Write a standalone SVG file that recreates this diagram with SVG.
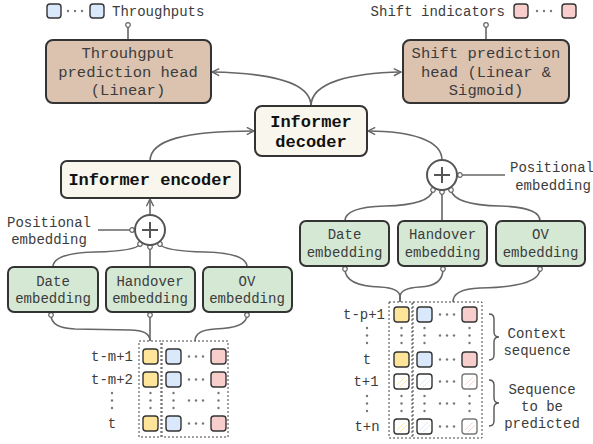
<svg xmlns="http://www.w3.org/2000/svg" width="593" height="444" viewBox="0 0 593 444">
<defs>
<style>
.t{font-family:"Liberation Mono","Courier New",monospace;fill:#3c3c3c;}
.s14{font-size:14px;}
.s15{font-size:15.5px;}
.b{font-size:17px;font-weight:bold;fill:#111;}
.mid{text-anchor:middle;}
.end{text-anchor:end;}
.box{stroke:#333;stroke-width:2;}
.head{fill:#dcc3b0;}
.inf{fill:#f9f7ed;}
.emb{fill:#d5e8d4;}
.c{fill:none;stroke:#666;stroke-width:1.6;}
.ar{marker-end:url(#arr);}
.dt{marker-end:url(#dot);}
.sq{stroke:#333;stroke-width:1.4;}
.y{fill:#ffe599;}
.bl{fill:#dae8fc;}
.pk{fill:#f8cecc;}
.w{fill:#fff;}
.wg{fill:#fff;stroke:#777;stroke-width:1.4;}
.dash{fill:none;stroke:#444;stroke-width:1;stroke-dasharray:2,2;}
.d{fill:#777;}
.hy{stroke:#ffe599;stroke-width:0.9;fill:none;}
.hb{stroke:#dae8fc;stroke-width:0.9;fill:none;}
.hp{stroke:#f8cecc;stroke-width:0.9;fill:none;}
</style>
<marker id="arr" viewBox="0 0 10 10" refX="9" refY="5" markerWidth="9" markerHeight="9" markerUnits="userSpaceOnUse" orient="auto">
<path d="M1,1 L9,5 L1,9" fill="none" stroke="#666" stroke-width="1.6"/>
</marker>
<marker id="dot" viewBox="0 0 8 8" refX="4" refY="4" markerWidth="7" markerHeight="7" markerUnits="userSpaceOnUse" orient="auto">
<circle cx="4" cy="4" r="2.6" fill="#fff" stroke="#666" stroke-width="1.4"/>
</marker>
</defs>
<rect width="593" height="444" fill="#fff"/>

<g id="connectors">
<path class="c dt" d="M128,40 L128,25"/>
<path class="c dt" d="M486,40 L486,25"/>
<path class="c ar" d="M311,106 C311,82 270,73 212,72"/>
<path class="c ar" d="M311,106 C311,82 352,73 401,72"/>
<path class="c ar" d="M150,161 C150,140 185,131 254,131"/>
<path class="c ar" d="M442,160 C442,140 410,131 368,131"/>
<path class="c ar" d="M150,215 L150,199"/>
<path class="c dt" d="M98,230 L132,230"/>
<path class="c dt" d="M505,175 L460,175"/>
<path class="c dt" d="M53,267 Q53,253 95,252 Q137,251 140,244"/>
<path class="c dt" d="M150,267 L150,247"/>
<path class="c dt" d="M247,267 Q247,253 205,252 Q163,251 160,244"/>
<path class="c dt" d="M345,221 Q345,207 385,206 Q430,205 433,190"/>
<path class="c dt" d="M442,221 L442,192"/>
<path class="c dt" d="M540,221 Q540,207 500,206 Q454,205 451,190"/>
<path class="c dt" d="M400,302 L400,297 Q400,288 380,287 Q345,286 345,269"/>
<path class="c dt" d="M400,302 L400,297 Q400,288 420,287 Q443,286 443,269"/>
<path class="c dt" d="M453,302 Q453,289 480,288 Q540,287 540,269"/>
<path class="c dt" d="M150,341 Q150,330 130,330 L75,329 Q51,328 51,315"/>
<path class="c dt" d="M150,341 L150,315"/>
<path class="c dt" d="M195,341 Q195,330 215,329 Q247,328 247,315"/>
</g>

<g id="throughputs-label">
<rect class="sq bl" x="47" y="4" width="14" height="14" rx="3"/>
<circle class="d" cx="68" cy="11" r="1.2"/><circle class="d" cx="75" cy="11" r="1.2"/><circle class="d" cx="82" cy="11" r="1.2"/>
<rect class="sq bl" x="90" y="4" width="14" height="14" rx="3"/>
<text class="t s14" x="112" y="16">Throughputs</text>
</g>

<g id="shift-label">
<text class="t s14 end" x="505" y="16">Shift indicators</text>
<rect class="sq pk" x="514" y="4" width="14" height="14" rx="3"/>
<circle class="d" cx="537" cy="11" r="1.2"/><circle class="d" cx="544" cy="11" r="1.2"/><circle class="d" cx="551" cy="11" r="1.2"/>
<rect class="sq pk" x="562" y="4" width="14" height="14" rx="3"/>
</g>

<g id="throughput-head">
<rect class="box head" x="46" y="40" width="165" height="63" rx="7"/>
<text class="t s15 mid" x="128" y="58">Throuhgput</text>
<text class="t s15 mid" x="128" y="77">prediction head</text>
<text class="t s15 mid" x="128" y="95">(Linear)</text>
</g>

<g id="shift-head">
<rect class="box head" x="403" y="40" width="166" height="63" rx="7"/>
<text class="t s15 mid" x="486" y="58">Shift prediction</text>
<text class="t s15 mid" x="486" y="77">head (Linear &amp;</text>
<text class="t s15 mid" x="486" y="95">Sigmoid)</text>
</g>

<g id="decoder">
<rect class="box inf" x="255" y="106" width="112" height="50" rx="7"/>
<text class="t b mid" x="311" y="127">Informer</text>
<text class="t b mid" x="311" y="147">decoder</text>
</g>

<g id="encoder">
<rect class="box inf" x="61" y="161" width="179" height="37" rx="6"/>
<text class="t b mid" x="150" y="185">Informer encoder</text>
</g>

<g id="plus-left">
<circle cx="150" cy="230" r="15" fill="#fff" stroke="#555" stroke-width="2"/>
<path d="M142,230 H158 M150,222 V238" stroke="#555" stroke-width="2"/>
</g>
<g id="pos-left">
<text class="t s14 mid" x="49" y="227">Positional</text>
<text class="t s14 mid" x="49" y="244">embedding</text>
</g>

<g id="plus-right">
<circle cx="442" cy="175" r="15" fill="#fff" stroke="#555" stroke-width="2"/>
<path d="M434,175 H450 M442,167 V183" stroke="#555" stroke-width="2"/>
</g>
<g id="pos-right">
<text class="t s14 mid" x="552" y="172">Positional</text>
<text class="t s14 mid" x="553" y="190">embedding</text>
</g>

<g id="date-left">
<rect class="box emb" x="8" y="267" width="90" height="45" rx="6"/>
<text class="t s14 mid" x="53" y="286">Date</text>
<text class="t s14 mid" x="53" y="303">embedding</text>
</g>
<g id="handover-left">
<rect class="box emb" x="106" y="267" width="89" height="45" rx="6"/>
<text class="t s14 mid" x="150" y="286">Handover</text>
<text class="t s14 mid" x="150" y="303">embedding</text>
</g>
<g id="ov-left">
<rect class="box emb" x="203" y="267" width="89" height="45" rx="6"/>
<text class="t s14 mid" x="247" y="286">OV</text>
<text class="t s14 mid" x="247" y="303">embedding</text>
</g>

<g id="date-right">
<rect class="box emb" x="300" y="221" width="89" height="45" rx="6"/>
<text class="t s14 mid" x="344.5" y="239">Date</text>
<text class="t s14 mid" x="344.5" y="257">embedding</text>
</g>
<g id="handover-right">
<rect class="box emb" x="398" y="221" width="89" height="45" rx="6"/>
<text class="t s14 mid" x="442.5" y="239">Handover</text>
<text class="t s14 mid" x="442.5" y="257">embedding</text>
</g>
<g id="ov-right">
<rect class="box emb" x="496" y="221" width="89" height="45" rx="6"/>
<text class="t s14 mid" x="540.5" y="239">OV</text>
<text class="t s14 mid" x="540.5" y="257">embedding</text>
</g>

<g id="encoder-input">
<rect class="dash" x="139" y="341" width="22" height="96"/>
<rect class="dash" x="162" y="341" width="66" height="96"/>
<rect class="sq y" x="143" y="349" width="15" height="15" rx="3"/>
<rect class="sq bl" x="166" y="349" width="15" height="15" rx="3"/>
<rect class="sq pk" x="211" y="349" width="15" height="15" rx="3"/>
<rect class="sq y" x="143" y="372" width="15" height="15" rx="3"/>
<rect class="sq bl" x="166" y="372" width="15" height="15" rx="3"/>
<rect class="sq pk" x="211" y="372" width="15" height="15" rx="3"/>
<rect class="sq y" x="143" y="416" width="15" height="15" rx="3"/>
<rect class="sq bl" x="166" y="416" width="15" height="15" rx="3"/>
<rect class="sq pk" x="211" y="416" width="15" height="15" rx="3"/>
<g class="d">
<circle cx="189" cy="356.5" r="1.2"/><circle cx="196" cy="356.5" r="1.2"/><circle cx="203" cy="356.5" r="1.2"/>
<circle cx="189" cy="379.5" r="1.2"/><circle cx="196" cy="379.5" r="1.2"/><circle cx="203" cy="379.5" r="1.2"/>
<circle cx="189" cy="423.5" r="1.2"/><circle cx="196" cy="423.5" r="1.2"/><circle cx="203" cy="423.5" r="1.2"/>
<circle cx="189" cy="400.5" r="1.2"/><circle cx="196" cy="400.5" r="1.2"/><circle cx="203" cy="400.5" r="1.2"/>
<circle cx="150.5" cy="393" r="1.2"/><circle cx="150.5" cy="400.5" r="1.2"/><circle cx="150.5" cy="408" r="1.2"/>
<circle cx="173.5" cy="393" r="1.2"/><circle cx="173.5" cy="400.5" r="1.2"/><circle cx="173.5" cy="408" r="1.2"/>
<circle cx="218.5" cy="393" r="1.2"/><circle cx="218.5" cy="400.5" r="1.2"/><circle cx="218.5" cy="408" r="1.2"/>
<circle cx="112" cy="393" r="1.2"/><circle cx="112" cy="400.5" r="1.2"/><circle cx="112" cy="408" r="1.2"/>
</g>
<text class="t s14 end" x="133" y="361">t-m+1</text>
<text class="t s14 end" x="133" y="384">t-m+2</text>
<text class="t s14 mid" x="112" y="428">t</text>
</g>

<g id="decoder-input">
<rect class="dash" x="389" y="302" width="23" height="136"/>
<rect class="dash" x="413" y="302" width="69" height="136"/>
<rect class="sq y" x="394" y="307" width="15" height="15" rx="3"/>
<rect class="sq bl" x="417" y="307" width="15" height="15" rx="3"/>
<rect class="sq pk" x="462" y="307" width="15" height="15" rx="3"/>
<rect class="sq y" x="394" y="352" width="15" height="15" rx="3"/>
<rect class="sq bl" x="417" y="352" width="15" height="15" rx="3"/>
<rect class="sq pk" x="462" y="352" width="15" height="15" rx="3"/>
<path class="hy" d="M397,385 L405,377 M400,387 L407,380 M397,430 L405,422 M400,432 L407,425"/>
<path class="hb" d="M420,385 L428,377 M423,387 L430,380 M420,430 L428,422 M423,432 L430,425"/>
<path class="hp" d="M465,385 L473,377 M468,387 L475,380 M465,430 L473,422 M468,432 L475,425"/>
<rect class="sq" fill="none" x="394" y="374" width="15" height="15" rx="3"/>
<rect class="sq" fill="none" x="417" y="374" width="15" height="15" rx="3"/>
<rect class="wg" fill="none" style="fill:none" x="462" y="374" width="15" height="15" rx="3"/>
<rect class="sq" fill="none" x="394" y="419" width="15" height="15" rx="3"/>
<rect class="sq" fill="none" x="417" y="419" width="15" height="15" rx="3"/>
<rect class="wg" style="fill:none" x="462" y="419" width="15" height="15" rx="3"/>
<g class="d">
<circle cx="440" cy="314.5" r="1.2"/><circle cx="447" cy="314.5" r="1.2"/><circle cx="454" cy="314.5" r="1.2"/>
<circle cx="440" cy="335.5" r="1.2"/><circle cx="447" cy="335.5" r="1.2"/><circle cx="454" cy="335.5" r="1.2"/>
<circle cx="440" cy="359.5" r="1.2"/><circle cx="447" cy="359.5" r="1.2"/><circle cx="454" cy="359.5" r="1.2"/>
<circle cx="440" cy="381.5" r="1.2"/><circle cx="447" cy="381.5" r="1.2"/><circle cx="454" cy="381.5" r="1.2"/>
<circle cx="440" cy="403.5" r="1.2"/><circle cx="447" cy="403.5" r="1.2"/><circle cx="454" cy="403.5" r="1.2"/>
<circle cx="440" cy="426.5" r="1.2"/><circle cx="447" cy="426.5" r="1.2"/><circle cx="454" cy="426.5" r="1.2"/>
<circle cx="401.5" cy="328" r="1.2"/><circle cx="401.5" cy="335.5" r="1.2"/><circle cx="401.5" cy="343" r="1.2"/>
<circle cx="424.5" cy="328" r="1.2"/><circle cx="424.5" cy="335.5" r="1.2"/><circle cx="424.5" cy="343" r="1.2"/>
<circle cx="469.5" cy="328" r="1.2"/><circle cx="469.5" cy="335.5" r="1.2"/><circle cx="469.5" cy="343" r="1.2"/>
<circle cx="401.5" cy="396" r="1.2"/><circle cx="401.5" cy="403.5" r="1.2"/><circle cx="401.5" cy="411" r="1.2"/>
<circle cx="424.5" cy="396" r="1.2"/><circle cx="424.5" cy="403.5" r="1.2"/><circle cx="424.5" cy="411" r="1.2"/>
<circle cx="469.5" cy="396" r="1.2"/><circle cx="469.5" cy="403.5" r="1.2"/><circle cx="469.5" cy="411" r="1.2"/>
<circle cx="367" cy="328" r="1.2"/><circle cx="367" cy="335.5" r="1.2"/><circle cx="367" cy="343" r="1.2"/>
<circle cx="367" cy="396" r="1.2"/><circle cx="367" cy="403.5" r="1.2"/><circle cx="367" cy="411" r="1.2"/>
</g>
<text class="t s14 end" x="385" y="319">t-p+1</text>
<text class="t s14 mid" x="367" y="364">t</text>
<text class="t s14 mid" x="366" y="386">t+1</text>
<text class="t s14 mid" x="367" y="431">t+n</text>
<path d="M489,314 Q494,314 494,319 L494,332 Q494,337 499,337 Q494,337 494,342 L494,355 Q494,360 489,360" fill="none" stroke="#555" stroke-width="1.4"/>
<path d="M489,380 Q494,380 494,385 L494,398 Q494,403 499,403 Q494,403 494,408 L494,421 Q494,426 489,426" fill="none" stroke="#555" stroke-width="1.4"/>
<text class="t s14 mid" x="537" y="338">Context</text>
<text class="t s14 mid" x="537" y="355">sequence</text>
<text class="t s14 mid" x="542" y="394">Sequence</text>
<text class="t s14 mid" x="542" y="411">to be</text>
<text class="t s14 mid" x="542" y="428">predicted</text>
</g>
</svg>
